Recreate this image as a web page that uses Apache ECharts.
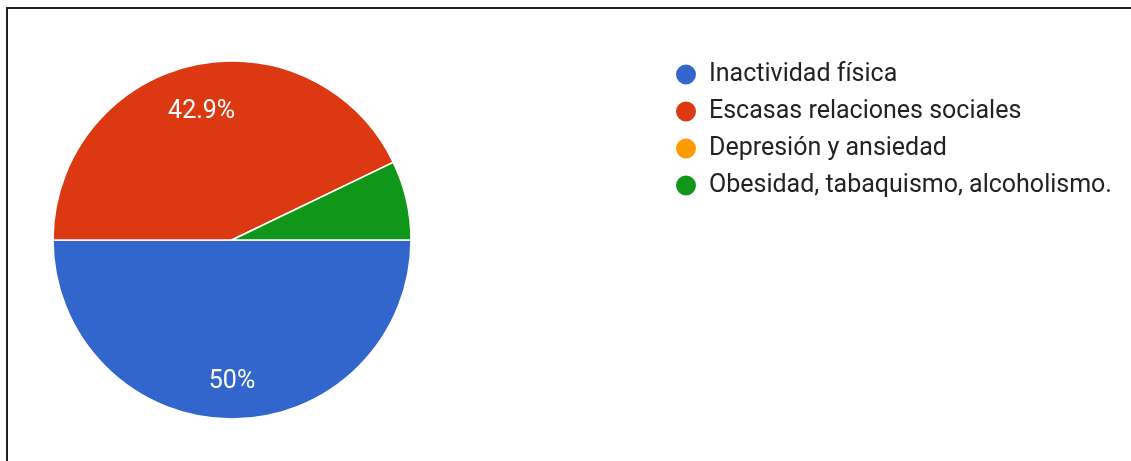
<!DOCTYPE html>
<html>
<head>
<meta charset="utf-8">
<script src="https://cdn.jsdelivr.net/npm/echarts@6/dist/echarts.min.js"></script>
<style>
  html, body { margin: 0; padding: 0; background: #fff; }
  #frame { position: absolute; left: 6px; top: 7px; width: 1125px; height: 454px;
           border-top: 2px solid #222; border-left: 2px solid #222; box-sizing: border-box; }
  #chart { position: absolute; left: 0; top: 0; width: 1131px; height: 461px; }
</style>
</head>
<body>
<div id="frame"></div>
<div id="chart"></div>
<script>
const categories = ['Inactividad física', 'Escasas relaciones sociales', 'Depresión y ansiedad', 'Obesidad, tabaquismo, alcoholismo.'];
const counts = [7, 6, 0, 1];
const colors = ['#3366cc', '#dc3912', '#ff9900', '#109618'];

const data = categories.map((name, i) => ({ name, value: counts[i] }));

const chart = echarts.init(document.getElementById('chart'));
chart.setOption({
  animation: false,
  color: colors,
  legend: {
    orient: 'vertical',
    left: 674,
    top: 62,
    padding: 0,
    icon: 'circle',
    itemWidth: 22,
    itemHeight: 22,
    itemGap: 12,
    textStyle: { fontFamily: 'Roboto', fontSize: 25, lineHeight: 22, color: '#222', padding: [0, 0, 0, 7] },
    data: categories
  },
  series: [
    {
      type: 'pie',
      center: [232, 240],
      radius: [0, 179],
      startAngle: 0,
      clockwise: true,
      silent: true,
      itemStyle: { borderColor: '#fff', borderWidth: 1.5 },
      label: { show: false },
      labelLine: { show: false },
      data: data
    },
    {
      type: 'pie',
      center: [232, 240],
      radius: [88, 179],
      startAngle: 0,
      clockwise: true,
      silent: true,
      legendHoverLink: false,
      itemStyle: { color: 'transparent', borderWidth: 0 },
      label: {
        show: true,
        position: 'inside',
        color: '#fff',
        fontFamily: 'Roboto',
        fontSize: 25,
        offset: [0, 5],
        formatter: p => p.percent < 10 ? '' : (Math.round(p.percent * 10) / 10) + '%'
      },
      labelLine: { show: false },
      data: data
    }
  ]
});
</script>
</body>
</html>
